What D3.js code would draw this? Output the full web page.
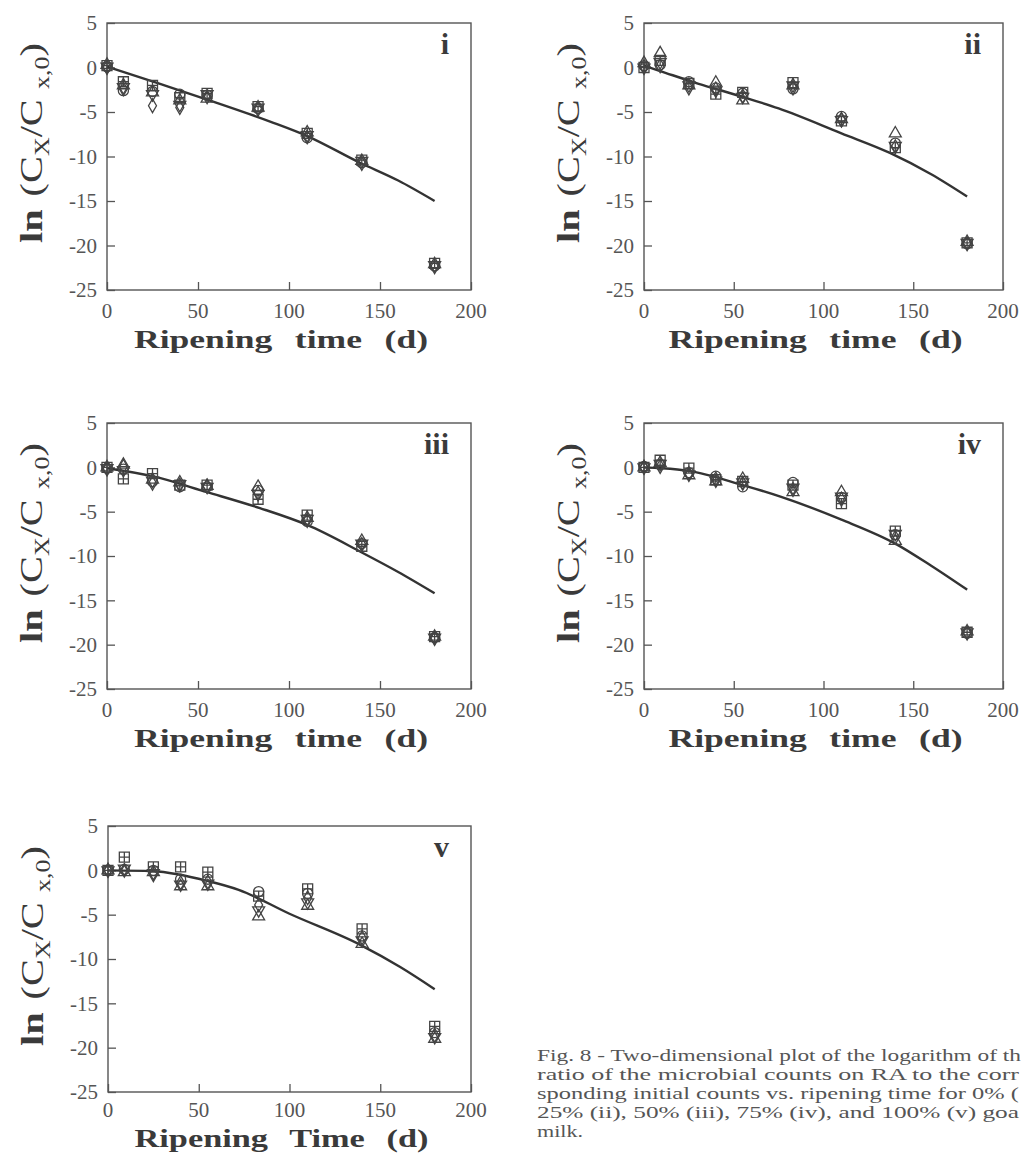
<!DOCTYPE html>
<html>
<head>
<meta charset="utf-8">
<script src="https://cdn.jsdelivr.net/npm/d3@7"></script>
<style>
  body { margin: 0; background: #fff; }
  svg { display: block; }
  text { font-family: "Liberation Serif", "Times New Roman", serif; }
</style>
</head>
<body>
<script>
// sampling days shared by all five panels
const days = [0, 9, 25, 40, 55, 83, 110, 140, 180];

// one row per replicate symbol: square-plus, circle, triangle, diamond, triangle-down
const shapes = ['squarePlus', 'circle', 'triangle', 'diamond', 'triangleDown'];

const valuesI = [
  [0.2, -1.6, -2.0, -3.4, -2.9, -4.4, -7.4, -10.4, -22.0],
  [0.1, -2.6, -2.7, -3.0, -3.1, -4.6, -7.9, -10.7, -22.3],
  [0.3, -2.0, -2.8, -3.7, -3.5, -4.5, -7.3, -10.5, -22.1],
  [0.0, -2.4, -4.3, -4.5, -3.3, -4.7, -7.8, -10.8, -22.4],
  [0.1, -2.2, -3.0, -4.2, -3.0, -4.5, -7.6, -10.5, -22.2]
];
const valuesII = [
  [0.0, 0.8, -1.8, -3.0, -2.8, -1.7, -6.0, -9.0, -19.7],
  [0.2, 0.3, -1.6, -2.3, -2.9, -2.4, -5.5, -8.5, -19.8],
  [0.5, 1.6, -2.0, -1.7, -3.7, -2.0, -5.8, -7.4, -19.6],
  [0.1, 0.2, -2.3, -2.4, -3.2, -2.3, -5.9, -8.9, -19.8],
  [0.0, 0.6, -2.0, -2.6, -3.3, -2.0, -5.9, -8.8, -19.7]
];
const valuesIII = [
  [0.0, -1.3, -0.7, -2.0, -2.0, -3.6, -5.4, -8.9, -19.1],
  [-0.1, -0.2, -1.6, -2.2, -2.2, -2.6, -6.1, -8.6, -19.2],
  [0.0, 0.3, -1.4, -1.7, -2.1, -2.2, -5.7, -8.3, -19.1],
  [-0.2, 0.1, -1.8, -2.0, -2.1, -2.9, -6.0, -8.7, -19.3],
  [-0.1, -0.3, -1.5, -1.9, -2.2, -3.0, -5.8, -8.6, -19.2]
];
const valuesIV = [
  [0.0, 0.8, -0.1, -1.4, -1.6, -2.0, -4.1, -7.2, -18.6],
  [0.1, 0.3, -0.6, -1.0, -2.2, -1.7, -3.4, -7.6, -18.7],
  [0.0, 0.5, -0.9, -1.6, -1.3, -2.8, -2.8, -8.3, -18.5],
  [0.0, 0.1, -0.7, -1.3, -1.8, -2.5, -3.6, -7.9, -18.7],
  [0.0, 0.4, -0.8, -1.5, -1.7, -2.3, -3.3, -7.5, -18.6]
];
const valuesV = [
  [0.0, 1.5, 0.4, 0.4, -0.2, -2.9, -2.1, -6.6, -17.6],
  [0.0, 0.1, 0.0, -1.0, -1.0, -2.4, -2.6, -7.4, -18.3],
  [0.0, -0.2, -0.2, -1.8, -1.8, -5.2, -4.0, -8.3, -19.0],
  [0.0, 0.0, -0.5, -1.4, -1.3, -3.9, -3.1, -7.6, -18.6],
  [0.0, 0.2, -0.3, -1.6, -1.5, -4.5, -3.6, -7.9, -18.8]
];

// fitted model curves
const fitDaysI = [0, 30, 55, 90, 110, 139, 160, 180];
const fitI = [0.1, -1.9, -3.6, -6.1, -7.7, -10.7, -12.7, -15.0];
const fitDaysII = [0, 9, 30, 55, 75, 110, 137, 160, 180];
const fitII = [0.2, -0.4, -1.8, -3.3, -4.6, -7.4, -9.6, -12.0, -14.5];
const fitDaysIII = [0, 25, 55, 84, 110, 140, 160, 180];
const fitIII = [-0.1, -1.0, -2.8, -4.6, -6.5, -9.6, -11.8, -14.2];
const fitDaysIV = [0, 10, 25, 55, 76, 110, 140, 160, 180];
const fitIV = [0.0, -0.1, -0.4, -2.0, -3.3, -5.9, -8.6, -11.1, -13.8];
const fitDaysV = [0, 25, 55, 72, 100, 139, 161, 180];
const fitV = [0.0, -0.1, -1.2, -2.2, -4.9, -8.4, -10.9, -13.4];

const xTicks = [0, 50, 100, 150, 200];
const yTicks = [5, 0, -5, -10, -15, -20, -25];

// caption as far as the scan shows it (the page is cut at the right)
const captionLines = [
  'Fig. 8 - Two-dimensional plot of the logarithm of th',
  'ratio of the microbial counts on RA to the corr',
  'sponding initial counts vs. ripening time for 0% (',
  '25% (ii), 50% (iii), 75% (iv), and 100% (v) goa',
  'milk.'
];

const panels = [
  { label: 'i', values: valuesI, fd: fitDaysI, fv: fitI, left: 107, top: 23, w: 364, h: 267, xTitle: 'Ripening time (d)', tickGap: 28, titleGap: 58 },
  { label: 'ii', values: valuesII, fd: fitDaysII, fv: fitII, left: 644, top: 23, w: 359, h: 267, xTitle: 'Ripening time (d)', tickGap: 28, titleGap: 58 },
  { label: 'iii', values: valuesIII, fd: fitDaysIII, fv: fitIII, left: 107, top: 423, w: 364, h: 266, xTitle: 'Ripening time (d)', tickGap: 28, titleGap: 58 },
  { label: 'iv', values: valuesIV, fd: fitDaysIV, fv: fitIV, left: 644, top: 423, w: 359, h: 266, xTitle: 'Ripening time (d)', tickGap: 28, titleGap: 58 },
  { label: 'v', values: valuesV, fd: fitDaysV, fv: fitV, left: 108, top: 826, w: 363, h: 266, xTitle: 'Ripening Time (d)', tickGap: 25, titleGap: 55 }
];

const W = 1026, H = 1154;
const ink = '#3a3a3a';

const svg = d3.select('body').append('svg')
  .attr('width', W)
  .attr('height', H);

svg.append('rect').attr('width', W).attr('height', H).attr('fill', '#fff');

// custom symbol for the square with a cross
const symbolSquarePlus = {
  draw(ctx, size) {
    const r = Math.sqrt(size) / 2;
    ctx.moveTo(-r, -r); ctx.lineTo(r, -r); ctx.lineTo(r, r); ctx.lineTo(-r, r); ctx.closePath();
    ctx.moveTo(0, -r); ctx.lineTo(0, r);
    ctx.moveTo(-r, 0); ctx.lineTo(r, 0);
  }
};
const symbolTypes = {
  squarePlus: [symbolSquarePlus, 100, 0],
  circle: [d3.symbolCircle, 80, 0],
  triangle: [d3.symbolTriangle, 62, 0],
  diamond: [d3.symbolDiamond, 55, 0],
  triangleDown: [d3.symbolTriangle, 62, 180]
};

panels.forEach(p => {
  const g = svg.append('g');
  const x = d3.scaleLinear().domain([0, 200]).range([p.left, p.left + p.w]);
  const y = d3.scaleLinear().domain([-25, 5]).range([p.top + p.h, p.top]);
  const bottom = p.top + p.h;

  // frame
  g.append('rect')
    .attr('x', p.left).attr('y', p.top)
    .attr('width', p.w).attr('height', p.h)
    .attr('fill', 'none').attr('stroke', '#555').attr('stroke-width', 1.4);

  // inward ticks on left and bottom axes
  const yAxis = d3.axisRight(y).tickValues(yTicks).tickSize(8).tickFormat('');
  g.append('g').attr('transform', `translate(${p.left},0)`).call(yAxis)
    .call(s => s.select('.domain').remove())
    .call(s => s.selectAll('line').attr('stroke', '#555').attr('stroke-width', 1.3));
  const xAxis = d3.axisTop(x).tickValues(xTicks).tickSize(8).tickFormat('');
  g.append('g').attr('transform', `translate(0,${bottom})`).call(xAxis)
    .call(s => s.select('.domain').remove())
    .call(s => s.selectAll('line').attr('stroke', '#555').attr('stroke-width', 1.3));

  // tick labels
  g.selectAll('.ylab').data(yTicks).join('text')
    .attr('x', p.left - 10)
    .attr('y', d => y(d))
    .attr('dy', '0.35em')
    .attr('text-anchor', 'end')
    .attr('font-size', 21)
    .attr('fill', '#555')
    .text(d => d);
  g.selectAll('.xlab').data(xTicks).join('text')
    .attr('x', d => x(d))
    .attr('y', bottom + p.tickGap)
    .attr('text-anchor', 'middle')
    .attr('font-size', 21)
    .attr('fill', '#555')
    .text(d => d);

  // axis titles
  g.append('text')
    .attr('x', p.left + p.w / 2 - 8)
    .attr('y', bottom + p.titleGap)
    .attr('text-anchor', 'middle')
    .attr('font-size', 26)
    .attr('font-weight', 'bold')
    .attr('fill', ink)
    .attr('textLength', 294)
    .attr('lengthAdjust', 'spacingAndGlyphs')
    .style('word-spacing', '10px')
    .text(p.xTitle);

  const yt = g.append('text')
    .attr('transform', `translate(${p.left - 65},${p.top + 120}) rotate(-90)`)
    .attr('text-anchor', 'middle')
    .attr('font-size', 31)
    .attr('fill', ink)
    .attr('textLength', 200)
    .attr('lengthAdjust', 'spacingAndGlyphs');
  yt.append('tspan').attr('font-weight', 'bold').text('ln');
  yt.append('tspan').attr('dx', 10).text('(C');
  yt.append('tspan').attr('font-size', 20).attr('dy', 7).text('X');
  yt.append('tspan').attr('dy', -7).text('/C');
  yt.append('tspan').attr('font-size', 20).attr('dx', 8).attr('dy', 7).text('x,0');
  yt.append('tspan').attr('dy', -7).text(')');

  // panel label
  g.append('text')
    .attr('x', p.left + p.w - 22)
    .attr('y', p.top + 31)
    .attr('text-anchor', 'end')
    .attr('font-size', 30)
    .attr('font-weight', 'bold')
    .attr('fill', ink)
    .text(p.label);

  // fitted curve
  const line = d3.line()
    .x((d, i) => x(p.fd[i]))
    .y(d => y(d))
    .curve(d3.curveMonotoneX);
  g.append('path')
    .attr('d', line(p.fv))
    .attr('fill', 'none')
    .attr('stroke', '#333')
    .attr('stroke-width', 2.4);

  // replicate markers
  p.values.forEach((row, si) => {
    const [type, size, rot] = symbolTypes[shapes[si]];
    const sym = d3.symbol().type(type).size(size);
    g.selectAll(null).data(row).join('path')
      .attr('d', sym)
      .attr('transform', (d, i) => `translate(${x(days[i])},${y(d)}) rotate(${rot})`)
      .attr('fill', 'none')
      .attr('stroke', '#444')
      .attr('stroke-width', 1.3);
  });
});

// figure caption; glyphs stretched to the wide book face of the scan
const capWidths = [484, 482, 482, 482, null];
captionLines.forEach((t, i) => {
  const c = svg.append('text')
    .attr('x', 537)
    .attr('y', 1061 + i * 19)
    .attr('font-size', 17)
    .attr('fill', '#555')
    .text(t);
  if (capWidths[i]) c.attr('textLength', capWidths[i]).attr('lengthAdjust', 'spacingAndGlyphs');
  else c.attr('transform', 'translate(537,0) scale(1.3,1) translate(-537,0)');
});
</script>
</body>
</html>
